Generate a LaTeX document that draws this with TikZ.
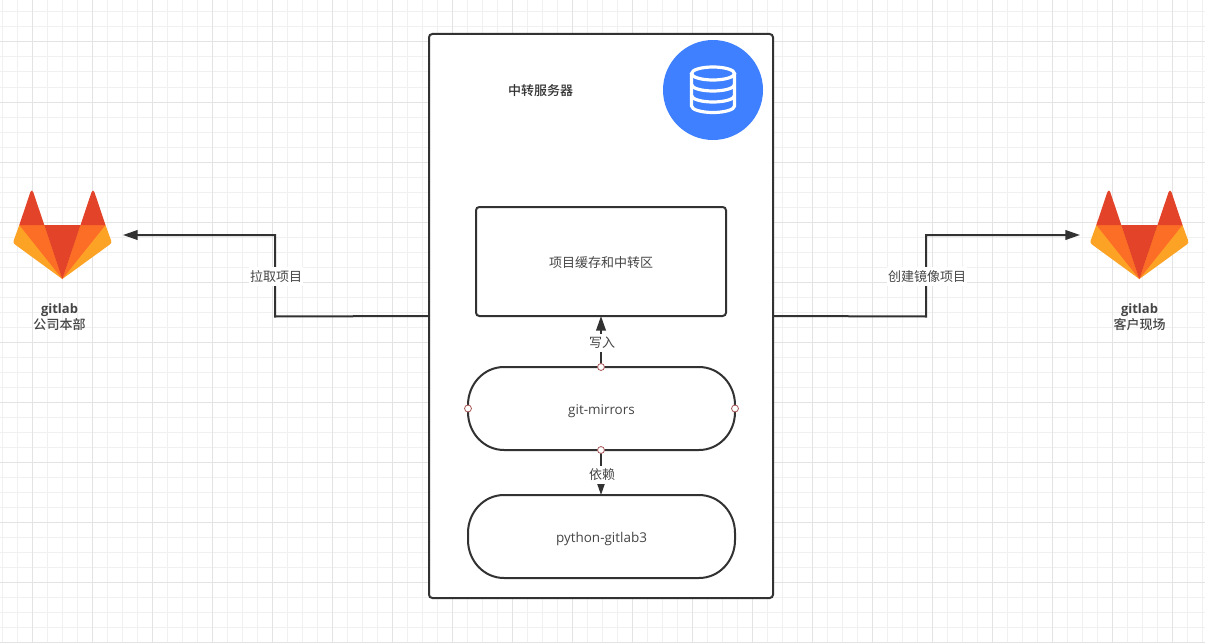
\documentclass[tikz,border=0pt]{standalone}
\usepackage{fontspec}
\setmainfont{Noto Sans CJK SC}
\newfontfamily\latinf{Open Sans}
\newfontfamily\cjkmed{Noto Sans CJK SC Medium}
\usetikzlibrary{arrows.meta,calc}
\definecolor{ink}{HTML}{323232}
\definecolor{txt}{HTML}{454545}
\definecolor{gridminor}{HTML}{F0F0F0}
\definecolor{gridmajor}{HTML}{E3E3E3}
\definecolor{dbblue}{HTML}{3E80FF}
\definecolor{glred}{HTML}{E24329}
\definecolor{glorange}{HTML}{FC6D26}
\definecolor{glyellow}{HTML}{FCA326}
\definecolor{anchorred}{HTML}{A85555}
\tikzset{
  x=0.75pt,y=-0.75pt,
  every node/.style={font=\fontsize{9.75pt}{12pt}\selectfont,text=txt,inner sep=0pt,outer sep=0pt},
  boxed/.style={draw=ink,line width=1.5pt,fill=white,rounded corners=2.5pt},
  pill/.style={minimum width=200.25pt,minimum height=62.25pt},
  pilloutline/.style={draw=ink,line width=1.5pt,fill=white},
  link/.style={draw=ink,line width=1.5pt},
  tip/.style={-{Triangle[length=11pt,width=7.2pt]}},
  lab/.style={fill=white,inner xsep=1pt,inner ysep=2.5pt},
  anchordot/.style={circle,draw=anchorred,fill=white,line width=0.6pt,minimum size=5.2pt},
  logotext/.style={align=center,font=\fontsize{9.75pt}{11.6pt}\selectfont},
  dbline/.style={draw=white,line width=2.4pt},
}
\newcommand{\gitlablogo}[2]{%
  \begin{scope}[shift={(#1,#2)}]
    \fill[glyellow] (19.3,225) -- (13.7,240.5) .. controls (13,242) and (13.5,243.5) .. (15,244.5) -- (62.3,279) -- (62.3,225) -- cycle;
    \fill[glyellow] (105.5,225) -- (111.1,240.5) .. controls (111.8,242) and (111.3,243.5) .. (109.8,244.5) -- (62.3,279) -- (62.3,225) -- cycle;
    \fill[glorange] (19.3,225) -- (44.3,225) -- (62.3,279) -- cycle;
    \fill[glorange] (105.5,225) -- (80.5,225) -- (62.3,279) -- cycle;
    \fill[glred] (44.3,225) -- (80.5,225) -- (62.3,279) -- cycle;
    \fill[glred] (19.3,225) -- (30.4,192) .. controls (31,190) and (32.6,190) .. (33.2,192) -- (44.3,225) -- cycle;
    \fill[glred] (105.5,225) -- (94.4,192) .. controls (93.8,190) and (92.2,190) .. (91.6,192) -- (80.5,225) -- cycle;
  \end{scope}}
\newcommand{\pilloutline}[1]{%
  \path[pilloutline] ($(#1.north west)+(36,0)$) -- ($(#1.north east)+(-36,0)$)
    .. controls ($(#1.north east)+(-16,0)$) and ($(#1.north east)+(0,17)$) .. ($(#1.north east)+(0,38)$)
    -- ($(#1.south east)+(0,-38)$)
    .. controls ($(#1.south east)+(0,-17)$) and ($(#1.south east)+(-16,0)$) .. ($(#1.south east)+(-36,0)$)
    -- ($(#1.south west)+(36,0)$)
    .. controls ($(#1.south west)+(16,0)$) and ($(#1.south west)+(0,-17)$) .. ($(#1.south west)+(0,-38)$)
    -- ($(#1.north west)+(0,38)$)
    .. controls ($(#1.north west)+(0,17)$) and ($(#1.north west)+(16,0)$) .. ($(#1.north west)+(36,0)$) -- cycle;}
\begin{document}
\begin{tikzpicture}
\useasboundingbox (0,0) rectangle (1205,642);
\fill[white] (0,0) rectangle (1205,642);
% grid
\foreach \gx in {2,17,...,1205} \draw[gridminor,line width=0.75pt] (\gx,0) -- (\gx,642);
\foreach \gy in {12,27,...,642} \draw[gridminor,line width=0.75pt] (0,\gy) -- (1205,\gy);
\foreach \gx in {32,92,...,1205} \draw[gridmajor,line width=0.75pt] (\gx,0) -- (\gx,642);
\foreach \gy in {42,102,...,642} \draw[gridmajor,line width=0.75pt] (0,\gy) -- (1205,\gy);

% server and boxes
\node[boxed,minimum width=258pt,minimum height=423pt,anchor=north west] (server) at (429,34) {};
\node[boxed,minimum width=187.5pt,minimum height=81.75pt,anchor=north west] (cache) at (476,207) {};
\node[text=txt] (cachetext) at ($(cache.center)+(0,0.8)$) {项目缓存和中转区};
\node[pill,anchor=north west] (mirrors) at (468,367) {};
\node[pill,anchor=north west] (pygitlab) at (468,495) {};
\pilloutline{mirrors}
\pilloutline{pygitlab}
\node[font=\fontsize{10.1pt}{12pt}\selectfont\latinf] (mirrorstext) at ($(mirrors.center)+(0,2.5)$) {git-mirrors};
\node[font=\fontsize{10.1pt}{12pt}\selectfont\latinf] (pytext) at ($(pygitlab.center)+(0,2.5)$) {python-gitlab3};
\node[font=\fontsize{9.75pt}{12pt}\selectfont\cjkmed,text=ink] (title) at (540.5,90.5) {中转服务器};

% database badge
\node[circle,fill=dbblue,minimum size=75pt] (db) at (713,90) {};
\begin{scope}[shift={(db.center)}]
  \draw[dbline] (0,-16.5) ellipse [x radius=21.5,y radius=6.5];
  \draw[dbline] (-21.5,-16.5) -- (-21.5,16) arc [start angle=180,end angle=360,x radius=21.5,y radius=-6.5] -- (21.5,-16.5);
  \draw[dbline] (-21.5,-5.5) arc [start angle=180,end angle=360,x radius=21.5,y radius=-6.5];
  \draw[dbline] (-21.5,5.5) arc [start angle=180,end angle=360,x radius=21.5,y radius=-6.5];
\end{scope}

% logos
\gitlablogo{0}{0}
\gitlablogo{1077}{0}
\node[logotext] (hq) at (59.5,317) {\textbf{\latinf gitlab}\\{\cjkmed 公司本部}};
\node[logotext] (site) at (1139.5,317) {\textbf{\latinf gitlab}\\{\cjkmed 客户现场}};

% connectors
\coordinate (hqend) at (123,235);
\coordinate (siteend) at (1080,235);
\draw[link,tip] (server.west) -- (275,316.5) -- (275,235) -- (hqend);
\draw[link,tip] (server.east) -- (926,316.5) -- (926,235) -- (siteend);
\node[lab] (pull) at (276,276.5) {拉取项目};
\node[lab] (create) at (927,276.5) {创建镜像项目};
\coordinate (mtop) at (601,367);
\coordinate (mbot) at (601,450);
\draw[link,tip] (mtop) -- (mtop |- cache.south);
\draw[link,tip] (mbot) -- (mbot |- pygitlab.north);
\node[lab] (write) at (602,343) {写入};
\node[lab] (dep) at (602,475) {依赖};

% anchors
\node[anchordot] (a1) at (mtop) {};
\node[anchordot] (a2) at (mbot) {};
\node[anchordot] (a3) at (mirrors.west) {};
\node[anchordot] (a4) at (mirrors.east) {};
\end{tikzpicture}
\end{document}
